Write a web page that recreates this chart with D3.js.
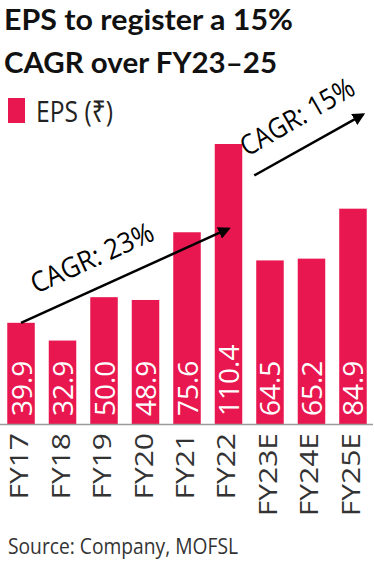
<!DOCTYPE html>
<html>
<head>
    <title>EPS chart</title>
    <script src="https://d3js.org/d3.v7.min.js"></script>
    <style>
        body { margin: 0; background: #fff; }
        svg { display: block; }
    </style>
</head>
<body>
    <div id="container"></div>
    <script>
        const width = 374;
        const height = 561;

        const years = ['FY17', 'FY18', 'FY19', 'FY20', 'FY21', 'FY22', 'FY23E', 'FY24E', 'FY25E'];
        const eps = [39.9, 32.9, 50.0, 48.9, 75.6, 110.4, 64.5, 65.2, 84.9];
        const titleLines = ['EPS to register a 15%', 'CAGR over FY23\u201325'];
        const cagrLabels = ['CAGR: 23%', 'CAGR: 15%'];

        const barColor = '#e8174f';
        const fontMain = "'Open Sans', 'Noto Sans', sans-serif";

        const xScale = d3.scaleBand()
            .domain(years)
            .range([0, width])
            .paddingInner(0.337)
            .paddingOuter(0.175);

        const yScale = d3.scaleLinear()
            .domain([0, 110.4])
            .range([424, 144]);

        const svg = d3.select('#container').append('svg')
            .attr('width', width)
            .attr('height', height);

        svg.append('defs').append('marker')
            .attr('id', 'head')
            .attr('viewBox', '0 0 10 10')
            .attr('refX', 8)
            .attr('refY', 5)
            .attr('markerWidth', 5)
            .attr('markerHeight', 5)
            .attr('markerUnits', 'strokeWidth')
            .attr('orient', 'auto')
            .append('path')
            .attr('d', 'M0,0 L10,5 L0,10 z')
            .attr('fill', '#000');

        // title
        svg.selectAll('.title')
            .data(titleLines)
            .join('text')
            .attr('x', 4)
            .attr('y', (d, i) => 30 + i * 43)
            .attr('font-family', "Lato, 'Open Sans', sans-serif")
            .attr('font-weight', 700)
            .attr('font-size', 29)
            .attr('fill', '#111')
            .attr('textLength', (d, i) => i === 0 ? 289 : 273)
            .attr('lengthAdjust', 'spacingAndGlyphs')
            .text(d => d);

        // legend
        svg.append('rect')
            .attr('x', 8).attr('y', 98)
            .attr('width', 17).attr('height', 25)
            .attr('fill', barColor);
        svg.append('text')
            .attr('x', 36).attr('y', 122)
            .attr('font-family', fontMain)
            .attr('font-size', 30)
            .attr('fill', '#222')
            .attr('textLength', 77)
            .attr('lengthAdjust', 'spacingAndGlyphs')
            .text('EPS (\u20B9)');

        // bars
        svg.selectAll('.bar')
            .data(eps)
            .join('rect')
            .attr('x', (d, i) => xScale(years[i]))
            .attr('y', d => yScale(d))
            .attr('width', xScale.bandwidth())
            .attr('height', d => yScale(0) - yScale(d))
            .attr('fill', barColor);

        // value labels
        svg.selectAll('.val')
            .data(eps)
            .join('text')
            .attr('transform', (d, i) => `translate(${xScale(years[i]) + xScale.bandwidth() / 2 + 10.5},${yScale(0) - 8}) rotate(-90)`)
            .attr('font-family', fontMain)
            .attr('font-size', 28)
            .attr('fill', '#fff')
            .text(d => d3.format('.1f')(d));

        // axis line
        svg.append('line')
            .attr('x1', 0).attr('x2', width - 1)
            .attr('y1', yScale(0) + 0.5).attr('y2', yScale(0) + 0.5)
            .attr('stroke', '#9a9a9a')
            .attr('stroke-width', 1.5);

        // category labels
        svg.selectAll('.cat')
            .data(years)
            .join('text')
            .attr('transform', d => `translate(${xScale(d) + xScale.bandwidth() / 2 + 7},433) rotate(-90) scale(1.2,1)`)
            .attr('text-anchor', 'end')
            .attr('font-family', fontMain)
            .attr('font-size', 25)
            .attr('fill', '#333')
            .text(d => d);

        // CAGR arrows
        const cx = d => xScale(d) + xScale.bandwidth() / 2;
        const arrows = [
            [cx('FY17'), yScale(39.9), cx('FY22'), yScale(77)],
            [xScale('FY22') + xScale.bandwidth() + 12, yScale(98), cx('FY25E') + 10, yScale(122)]
        ];
        svg.selectAll('.arrow')
            .data(arrows)
            .join('line')
            .attr('x1', d => d[0]).attr('y1', d => d[1])
            .attr('x2', d => d[2]).attr('y2', d => d[3])
            .attr('stroke', '#000')
            .attr('stroke-width', 2.5)
            .attr('marker-end', 'url(#head)');

        const cagrPos = [
            [36, 294, -24.5],
            [247, 157, -30]
        ];
        svg.selectAll('.cagr')
            .data(cagrLabels)
            .join('text')
            .attr('transform', (d, i) => `translate(${cagrPos[i][0]},${cagrPos[i][1]}) rotate(${cagrPos[i][2]})`)
            .attr('font-family', fontMain)
            .attr('font-size', 28)
            .attr('fill', '#000')
            .attr('textLength', (d, i) => i === 0 ? 132 : 127)
            .attr('lengthAdjust', 'spacingAndGlyphs')
            .text(d => d);

        // source
        svg.append('text')
            .attr('x', 8).attr('y', 554)
            .attr('font-family', fontMain)
            .attr('font-size', 22)
            .attr('fill', '#333')
            .attr('textLength', 230)
            .attr('lengthAdjust', 'spacingAndGlyphs')
            .text('Source: Company, MOFSL');
    </script>
</body>
</html>
